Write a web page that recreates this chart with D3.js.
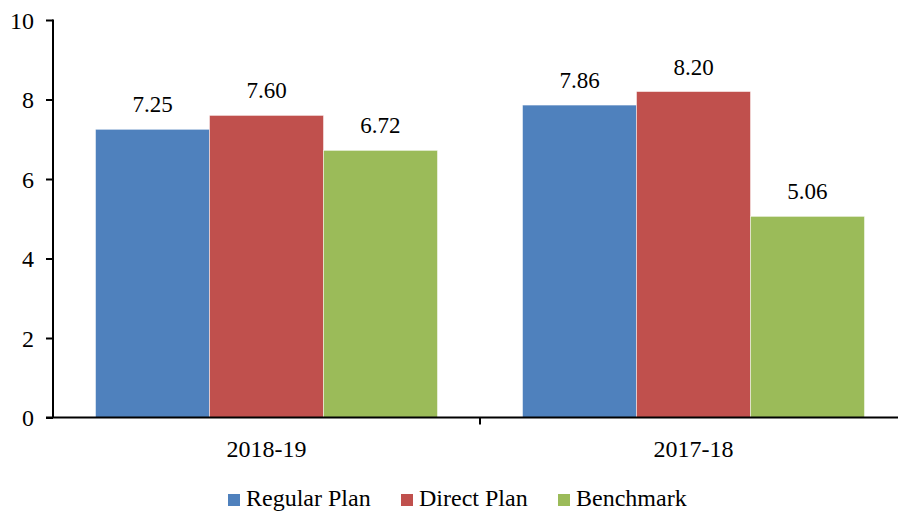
<!DOCTYPE html>
<html>
<head>
<meta charset="utf-8">
<script src="https://cdn.jsdelivr.net/npm/d3@7"></script>
<style>
    body { margin: 0; background: #fff; }
</style>
</head>
<body>
<div id="chart"></div>
<script>
// data
const categories = ["2018-19", "2017-18"]
const seriesNames = ["Regular Plan", "Direct Plan", "Benchmark"]
const regularPlan = [7.25, 7.86]
const directPlan = [7.60, 8.20]
const benchmark = [6.72, 5.06]
const yTicks = [0, 2, 4, 6, 8, 10]
const colors = ["#4F81BD", "#C0504D", "#9BBB59"]
const fontFamily = "'Liberation Serif', 'Times New Roman', Times, serif"

function drawBarChart() {
    const seriesValues = [regularPlan, directPlan, benchmark]

    //dimensions
    let dimensions = {
        width: 898,
        height: 513,
        margin: {top: 20, right: -9, bottom: 95.5, left: 53},
    }

    //canvas
    const wrapper = d3.select("#chart")
        .append("svg")
        .attr("width", dimensions.width)
        .attr("height", dimensions.height)
        .attr("font-family", fontFamily)
    const bounds = wrapper.append("g")

    //scales
    const xScale = d3.scaleBand()
        .domain(categories)
        .range([dimensions.margin.left, dimensions.width - dimensions.margin.right])
    const innerScale = d3.scaleBand()
        .domain(seriesNames)
        .range([0, xScale.bandwidth()])
        .paddingOuter(0.373)
    const yScale = d3.scaleLinear()
        .domain([0, 10])
        .range([dimensions.height - dimensions.margin.bottom, dimensions.margin.top])

    // bars
    seriesNames.forEach((name, s) => {
        bounds.append("g")
            .selectAll("rect")
            .data(categories)
            .join("rect")
            .attr("x", d => xScale(d) + innerScale(name))
            .attr("y", (d, i) => yScale(seriesValues[s][i]))
            .attr("width", innerScale.bandwidth())
            .attr("height", (d, i) => yScale(0) - yScale(seriesValues[s][i]))
            .attr("fill", colors[s])
            .attr("stroke", "#ffffff")
            .attr("stroke-opacity", 0.6)
            .attr("stroke-width", 0.8)

        bounds.append("g")
            .selectAll("text")
            .data(categories)
            .join("text")
            .attr("x", d => xScale(d) + innerScale(name) + innerScale.bandwidth() / 2)
            .attr("y", (d, i) => yScale(seriesValues[s][i]) - 17)
            .attr("text-anchor", "middle")
            .attr("font-family", fontFamily)
            .style("font-size", "23px")
            .text((d, i) => seriesValues[s][i].toFixed(2))
    })

    // axes
    const yAxis = bounds.append("g")
        .attr("transform", "translate(" + dimensions.margin.left + ",0)")
        .call(d3.axisLeft(yScale).tickValues(yTicks).tickSize(7).tickPadding(12))
        .attr("font-family", fontFamily)
    yAxis.select(".domain").attr("stroke", "#000").attr("stroke-width", 2)
        .attr("d", "M0," + (yScale(10) - 0.5) + "V" + yScale(0))
    yAxis.selectAll(".tick line").attr("stroke", "#000").attr("stroke-width", 2)
    yAxis.selectAll(".tick text").style("font-size", "24px").attr("dy", "0.35em").attr("fill", "#000")

    const xAxis = bounds.append("g")
        .attr("transform", "translate(0," + yScale(0) + ")")
    xAxis.append("line")
        .attr("x1", dimensions.margin.left - 7)
        .attr("x2", dimensions.width - dimensions.margin.right)
        .attr("stroke", "#000")
        .attr("stroke-width", 2)
    xAxis.selectAll(".xtick")
        .data(categories.slice(1))
        .join("line")
        .attr("x1", d => xScale(d))
        .attr("x2", d => xScale(d))
        .attr("y1", 0)
        .attr("y2", 7)
        .attr("stroke", "#000")
        .attr("stroke-width", 2)
    xAxis.selectAll(".xlabel")
        .data(categories)
        .join("text")
        .attr("x", d => xScale(d) + xScale.bandwidth() / 2)
        .attr("y", 39)
        .attr("text-anchor", "middle")
        .attr("font-family", fontFamily)
        .style("font-size", "24px")
        .text(d => d)

    // legend
    const legendX = [228, 401, 558]
    const legend = bounds.append("g")
    seriesNames.forEach((name, s) => {
        legend.append("rect")
            .attr("x", legendX[s])
            .attr("y", 494)
            .attr("width", 12)
            .attr("height", 12)
            .attr("fill", colors[s])
        legend.append("text")
            .attr("x", legendX[s] + 18)
            .attr("y", 506)
            .attr("font-family", fontFamily)
            .style("font-size", "24px")
            .text(name)
    })
}

drawBarChart()
</script>
</body>
</html>
